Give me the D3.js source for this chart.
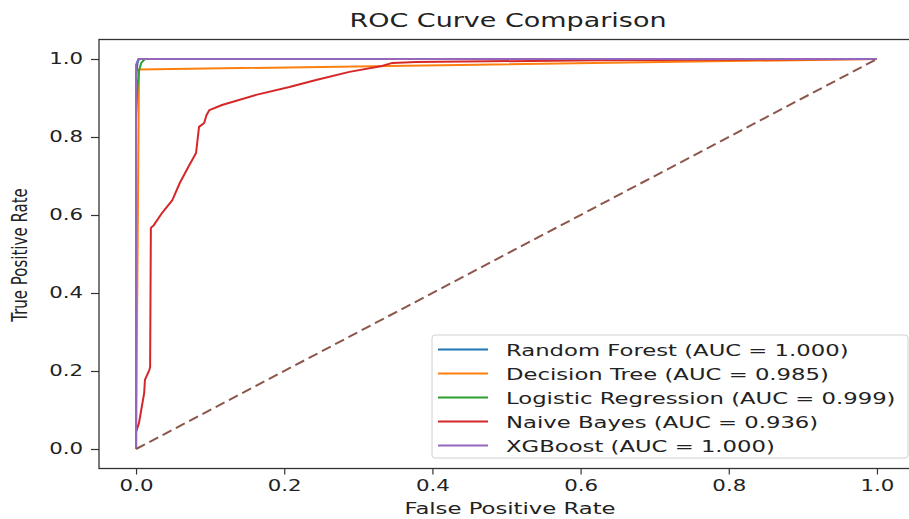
<!DOCTYPE html>
<html>
<head>
<meta charset="utf-8">
<script src="https://cdn.jsdelivr.net/npm/d3@7"></script>
<style>
  body { margin: 0; background: #fff; }
  text { font-family: "DejaVu Sans", sans-serif; fill: #222; }
</style>
</head>
<body>
<svg id="chart"></svg>
<script>
'use strict'

var WIDTH = 909,
	HEIGHT = 519;

// text in the reference is stretched sideways
var SX = 1.42;

var modelNames = ["Random Forest", "Decision Tree", "Logistic Regression", "Naive Bayes", "XGBoost"];
var aucValues = [1.000, 0.985, 0.999, 0.936, 1.000];
var lineColors = ["#1f77b4", "#ff7f0e", "#2ca02c", "#d62728", "#9467bd"];

var rfFpr = [0, 0, 0.002, 0.004, 1],
	rfTpr = [0, 0.95, 0.99, 1, 1];
var dtFpr = [0, 0.004, 1],
	dtTpr = [0, 0.973, 1];
var lrFpr = [0, 0, 0.002, 0.004, 0.007, 0.012, 1],
	lrTpr = [0, 0.85, 0.93, 0.97, 0.99, 1, 1];
var nbFpr = [0, 0, 0, 0.004, 0.007, 0.011, 0.012, 0.018, 0.019, 0.020, 0.024, 0.035, 0.049, 0.059, 0.072, 0.081, 0.085, 0.092, 0.095, 0.099, 0.116, 0.162, 0.207, 0.243, 0.288, 0.332, 0.346, 0.378, 0.626, 1],
	nbTpr = [0, 0.018, 0.044, 0.067, 0.10, 0.144, 0.177, 0.203, 0.21, 0.567, 0.574, 0.605, 0.638, 0.682, 0.728, 0.759, 0.826, 0.836, 0.856, 0.869, 0.882, 0.908, 0.928, 0.946, 0.967, 0.982, 0.990, 0.992, 0.997, 1];
var xgbFpr = [0, 0, 0.003, 1],
	xgbTpr = [0, 0.985, 1, 1];

var fprList = [rfFpr, dtFpr, lrFpr, nbFpr, xgbFpr],
	tprList = [rfTpr, dtTpr, lrTpr, nbTpr, xgbTpr];

var diagonal = [0, 1];
var tickValues = [0.0, 0.2, 0.4, 0.6, 0.8, 1.0];

var svg = d3.select("#chart")
	.attr("width", WIDTH)
	.attr("height", HEIGHT)

var x = d3.scaleLinear().domain([-0.05, 1.05]).range([99, 914]);
var y = d3.scaleLinear().domain([-0.05, 1.05]).range([468.5, 39.5]);

// stretch a text element sideways by SX
function stretch(sel) {
	sel.each(function() {
		var w = this.getComputedTextLength();
		d3.select(this)
			.attr("textLength", w * SX)
			.attr("lengthAdjust", "spacingAndGlyphs")
	})
}

// curves
var line = d3.line()
	.x(function(d) { return x(d[0]) })
	.y(function(d) { return y(d[1]) })

modelNames.forEach(function(name, i) {
	var pts = fprList[i].map(function(f, j) { return [f, tprList[i][j]] });
	svg.append("path")
		.attr("d", line(pts))
		.style("fill", "none")
		.style("stroke", lineColors[i])
		.style("stroke-width", 2)
		.style("stroke-linejoin", "round")
})

svg.append("path")
	.attr("d", line(diagonal.map(function(d) { return [d, d] })))
	.style("fill", "none")
	.style("stroke", "#8c564b")
	.style("stroke-width", 2)
	.style("stroke-dasharray", "10,5")

// spines
svg.append("rect")
	.attr("x", x(-0.05))
	.attr("y", y(1.05))
	.attr("width", x(1.05) - x(-0.05))
	.attr("height", y(-0.05) - y(1.05))
	.style("fill", "none")
	.style("stroke", "#333")
	.style("stroke-width", 1.3)

// x axis
var xAxis = svg.append("g")
	.attr("transform", "translate(0," + y(-0.05) + ")")
	.call(d3.axisBottom(x).tickValues(tickValues).tickFormat(d3.format(".1f")).tickSize(6).tickPadding(6))
xAxis.select(".domain").remove()
xAxis.selectAll("line").style("stroke", "#333").style("stroke-width", 1.2)
xAxis.selectAll("text")
	.style("font-size", "15px")
	.style("fill", "#222")
	.attr("font-family", "DejaVu Sans")
	.call(stretch)

// y axis
var yAxis = svg.append("g")
	.attr("transform", "translate(" + x(-0.05) + ",0)")
	.call(d3.axisLeft(y).tickValues(tickValues).tickFormat(d3.format(".1f")).tickSize(8).tickPadding(8))
yAxis.select(".domain").remove()
yAxis.selectAll("line").style("stroke", "#333").style("stroke-width", 1.2)
yAxis.selectAll("text")
	.style("font-size", "15px")
	.style("fill", "#222")
	.attr("font-family", "DejaVu Sans")
	.call(stretch)

// title and labels
svg.append("text")
	.attr("x", 508)
	.attr("y", 27)
	.attr("text-anchor", "middle")
	.style("font-size", "19px")
	.text("ROC Curve Comparison")
	.call(stretch)

svg.append("text")
	.attr("x", 510)
	.attr("y", 514)
	.attr("text-anchor", "middle")
	.style("font-size", "16px")
	.text("False Positive Rate")
	.call(stretch)

svg.append("text")
	.attr("transform", "translate(27,255) scale(" + SX + ",1) rotate(-90)")
	.attr("text-anchor", "middle")
	.style("font-size", "15px")
	.text("True Positive Rate")

// legend
var legend = svg.append("g")

legend.append("rect")
	.attr("x", 432)
	.attr("y", 335)
	.attr("width", 476)
	.attr("height", 123)
	.attr("rx", 3)
	.style("fill", "#fff")
	.style("fill-opacity", 0.8)
	.style("stroke", "#d0d0d0")
	.style("stroke-width", 1)

modelNames.forEach(function(name, i) {
	var cy = 349.5 + i * 24;
	legend.append("line")
		.attr("x1", 438)
		.attr("x2", 488)
		.attr("y1", cy)
		.attr("y2", cy)
		.style("stroke", lineColors[i])
		.style("stroke-width", 2)
	legend.append("text")
		.attr("x", 506)
		.attr("y", cy + 6)
		.style("font-size", "16px")
		.text(name + " (AUC = " + aucValues[i].toFixed(3) + ")")
		.call(stretch)
})
</script>
</body>
</html>
